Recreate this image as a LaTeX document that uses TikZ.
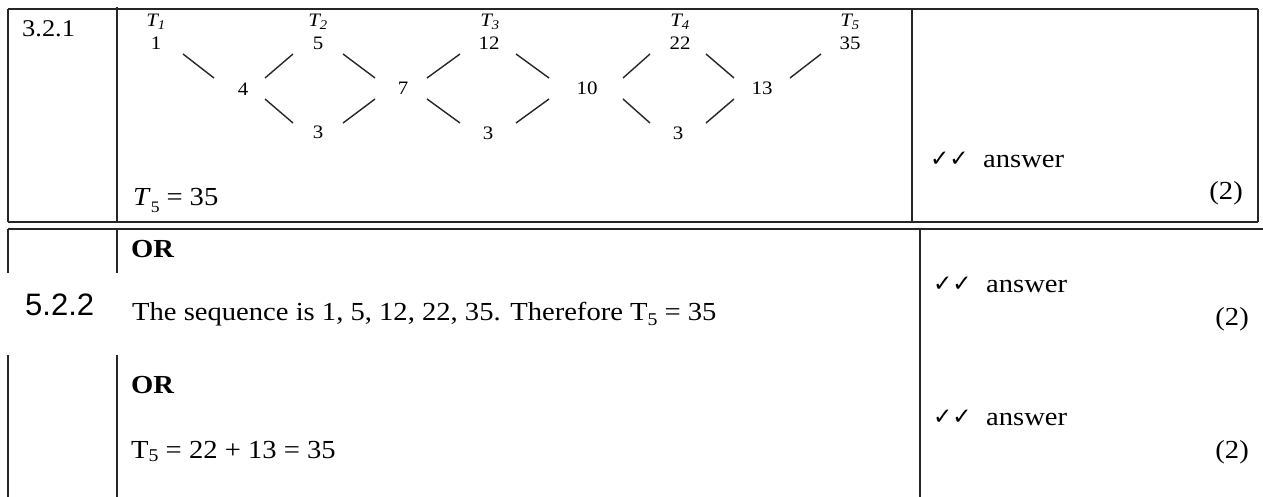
\documentclass[tikz,border=0pt]{standalone}
\usepackage{fontspec}
\setmainfont[FakeStretch=1.1]{Liberation Serif}
\newfontfamily\arialf{Liberation Sans}
\newfontfamily\symf{DejaVu Sans}
\usetikzlibrary{calc}
\begin{document}
\begin{tikzpicture}[x=1pt,y=-1pt,
 rule/.style={line width=1.8pt, black!85},
 seg/.style={line width=1.4pt, black!85},
 num/.style={inner sep=0pt, font=\fontsize{19}{19}\selectfont},
 tlab/.style={inner sep=0pt, font=\fontsize{19}{19}\selectfont\itshape},
 txt/.style={inner sep=0pt, anchor=base west, font=\fontsize{26}{26}\selectfont},
 pts/.style={inner sep=0pt, anchor=base east, font=\fontsize{26}{26}\selectfont},
 ans/.style={inner sep=0pt, anchor=base west, font=\fontsize{26}{26}\selectfont},
 chk/.style={inner sep=0pt, anchor=base west, font=\fontsize{23}{23}\symf}]
\useasboundingbox (0,0) rectangle (1263,497);
\fill[white] (0,0) rectangle (1263,497);
% ---- top table
\draw[rule] (8,9) -- (1258,9);
\draw[rule] (8,222) -- (1258,222);
\draw[rule] (8,9) -- (8,222);
\draw[rule] (117,7) -- (117,222);
\draw[rule] (912,9) -- (912,222);
\draw[rule] (1258,9) -- (1258,222);
% ---- bottom table
\draw[rule] (8,229) -- (1263,229);
\draw[rule] (8,229) -- (8,273);
\draw[rule] (8,355) -- (8,497);
\draw[rule] (117,229) -- (117,273);
\draw[rule] (117,355) -- (117,497);
\draw[rule] (920,229) -- (920,497);
% ---- top table texts
\node[txt, font=\fontsize{24}{24}\selectfont] (q1) at (22,37) {3.2.1};
\node[tlab] (t1) at (156,22) {T\textsubscript{1}};
\node[tlab] (t2) at (318,22) {T\textsubscript{2}};
\node[tlab] (t3) at (490,22) {T\textsubscript{3}};
\node[tlab] (t4) at (680,22) {T\textsubscript{4}};
\node[tlab] (t5) at (850,22) {T\textsubscript{5}};
\node[num] (v1) at (156,43) {1};
\node[num] (v2) at (318,43) {5};
\node[num] (v3) at (489,43) {12};
\node[num] (v4) at (680,43) {22};
\node[num] (v5) at (850,43) {35};
\node[num] (d1) at (243,89) {4};
\node[num] (d2) at (403,88) {7};
\node[num] (d3) at (587,88) {10};
\node[num] (d4) at (762,88) {13};
\node[num] (s1) at (318,132) {3};
\node[num] (s2) at (488,133) {3};
\node[num] (s3) at (678,133) {3};
\draw[seg] ($(v1)+(27,11)$) -- ($(d1)+(-29,-11)$);
\draw[seg] ($(d1)+(22,-11)$) -- ($(v2)+(-25,11)$);
\draw[seg] ($(d1)+(22,10)$) -- ($(s1)+(-25,-9)$);
\draw[seg] ($(v2)+(25,11)$) -- ($(d2)+(-28,-10)$);
\draw[seg] ($(s1)+(25,-9)$) -- ($(d2)+(-28,11)$);
\draw[seg] ($(d2)+(24,-10)$) -- ($(v3)+(-29,11)$);
\draw[seg] ($(d2)+(24,11)$) -- ($(s2)+(-28,-10)$);
\draw[seg] ($(v3)+(27,11)$) -- ($(d3)+(-38,-10)$);
\draw[seg] ($(s2)+(28,-10)$) -- ($(d3)+(-38,11)$);
\draw[seg] ($(d3)+(36,-10)$) -- ($(v4)+(-30,11)$);
\draw[seg] ($(d3)+(36,11)$) -- ($(s3)+(-28,-10)$);
\draw[seg] ($(v4)+(26,11)$) -- ($(d4)+(-28,-10)$);
\draw[seg] ($(s3)+(28,-10)$) -- ($(d4)+(-28,11)$);
\draw[seg] ($(d4)+(28,-10)$) -- ($(v5)+(-29,11)$);
\node[txt] (res) at (133,206) {\textit{T}\raisebox{-6pt}{\fontsize{16}{16}\selectfont 5}\hspace{7pt}=\hspace{7pt}35};
\node[chk] (c1) at (930,167) {✓✓};
\node[ans] (a1) at (983,168) {answer};
\node[pts] (m1) at (1243,200) {(2)};
% ---- bottom table texts
\node[txt, font=\fontsize{26}{26}\selectfont\bfseries] (or1) at (131,257) {OR};
\node[txt, font=\fontsize{31}{31}\arialf] (q2) at (25,315) {5.2.2};
\node[txt] (seq) at (132,320) {The sequence is 1, 5, 12, 22, 35. Therefore T\raisebox{-5pt}{\fontsize{18}{18}\selectfont 5} = 35};
\node[txt, font=\fontsize{26}{26}\selectfont\bfseries] (or2) at (131,393) {OR};
\node[txt] (sum) at (131,458) {T\raisebox{-3pt}{\fontsize{18}{18}\selectfont 5} = 22 + 13 = 35};
\node[chk] (c2) at (933,291) {✓✓};
\node[ans] (a2) at (986,292) {answer};
\node[pts] (m2) at (1249,325) {(2)};
\node[chk] (c3) at (933,424) {✓✓};
\node[ans] (a3) at (986,425) {answer};
\node[pts] (m3) at (1249,458) {(2)};
\end{tikzpicture}
\end{document}
